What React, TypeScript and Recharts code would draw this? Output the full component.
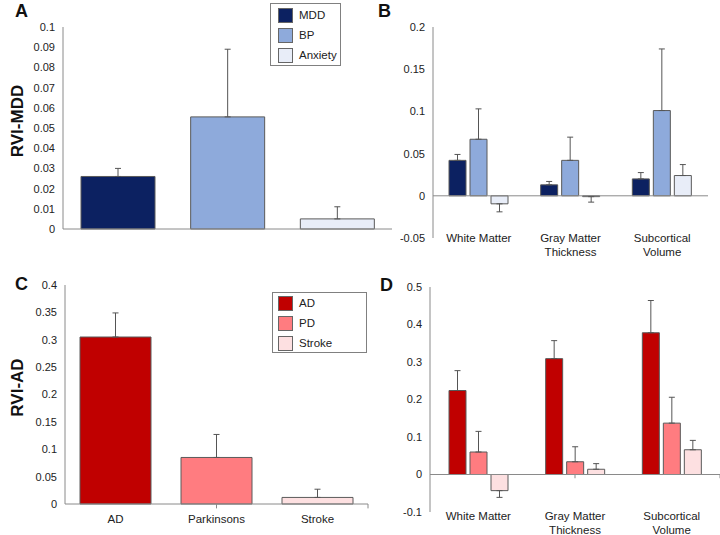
import React from 'react';
import { BarChart, Bar, XAxis, YAxis, ErrorBar, Cell, Legend, ReferenceLine } from 'recharts';

const FONT = '"Liberation Sans", Arial, Helvetica, sans-serif';
const AXIS = '#8a8a8a';
const OUTLINE = '#5a5a5a';
const ERR = '#555555';

// Panel A — RVI-MDD by disorder
const psychLabels = ['MDD', 'BP', 'Anxiety'];
const psychValues = [0.026, 0.0555, 0.005];
const psychErrors = [0.004, 0.0335, 0.006];
const psychColors = ['#0c2161', '#8eaadb', '#e8edf8'];
const psychTicks = [0, 0.01, 0.02, 0.03, 0.04, 0.05, 0.06, 0.07, 0.08, 0.09, 0.1];

// Panel B — RVI-MDD by region
const regionLabels = ['White Matter', 'Gray Matter\nThickness', 'Subcortical\nVolume'];
const mddRegion = [0.042, 0.013, 0.02];
const mddRegionErr = [0.007, 0.004, 0.0075];
const bpRegion = [0.067, 0.042, 0.101];
const bpRegionErr = [0.036, 0.0275, 0.073];
const anxRegion = [-0.0095, -0.001, 0.024];
const anxRegionErr = [0.0095, 0.0065, 0.013];
const regionTicksB = [-0.05, 0, 0.05, 0.1, 0.15, 0.2];

// Panel C — RVI-AD by disorder
const neuroLabels = ['AD', 'Parkinsons', 'Stroke'];
const neuroLegend = ['AD', 'PD', 'Stroke'];
const neuroValues = [0.305, 0.085, 0.012];
const neuroErrors = [0.044, 0.042, 0.015];
const neuroColors = ['#c00000', '#ff7c80', '#fde0e1'];
const neuroTicks = [0, 0.05, 0.1, 0.15, 0.2, 0.25, 0.3, 0.35, 0.4];

// Panel D — RVI-AD by region
const adRegion = [0.224, 0.309, 0.378];
const adRegionErr = [0.053, 0.048, 0.086];
const pdRegion = [0.06, 0.034, 0.137];
const pdRegionErr = [0.055, 0.04, 0.069];
const strokeRegion = [-0.043, 0.014, 0.066];
const strokeRegionErr = [0.018, 0.015, 0.025];
const regionTicksD = [-0.1, 0, 0.1, 0.2, 0.3, 0.4, 0.5];

const groupBoundaries = [1, 2];

const oneSided = (v: number, e: number) => (v >= 0 ? [0, e] : [e, 0]);

const psychData = psychLabels.map((name, i) => ({
  name,
  value: psychValues[i],
  err: oneSided(psychValues[i], psychErrors[i]),
}));

const regionDataB = regionLabels.map((name, i) => ({
  name,
  mdd: mddRegion[i],
  mddErr: oneSided(mddRegion[i], mddRegionErr[i]),
  bp: bpRegion[i],
  bpErr: oneSided(bpRegion[i], bpRegionErr[i]),
  anx: anxRegion[i],
  anxErr: oneSided(anxRegion[i], anxRegionErr[i]),
}));

const neuroData = neuroLabels.map((name, i) => ({
  name,
  value: neuroValues[i],
  err: oneSided(neuroValues[i], neuroErrors[i]),
}));

const regionDataD = regionLabels.map((name, i) => ({
  name,
  ad: adRegion[i],
  adErr: oneSided(adRegion[i], adRegionErr[i]),
  pd: pdRegion[i],
  pdErr: oneSided(pdRegion[i], pdRegionErr[i]),
  st: strokeRegion[i],
  stErr: oneSided(strokeRegion[i], strokeRegionErr[i]),
}));

const tickStyle = { fontSize: 11, fill: '#222', fontFamily: FONT };

const yTitle = (text: string) => (props: any) => {
  const vb = props.viewBox;
  const x = vb.x + 23;
  const y = vb.y + vb.height / 2 - 7;
  return (
    <text
      x={x}
      y={y}
      transform={`rotate(-90 ${x} ${y})`}
      textAnchor="middle"
      fontSize={17}
      fontWeight="bold"
      fontFamily={FONT}
      fill="#111"
    >
      {text}
    </text>
  );
};

const WrapTick = (props: any) => {
  const { x, y, payload, shift } = props;
  const lines = String(payload.value).split('\n');
  return (
    <text x={x} y={y + shift} textAnchor="middle" fontSize={11.5} fontFamily={FONT} fill="#222">
      {lines.map((l, i) => (
        <tspan key={i} x={x} dy={i === 0 ? '0.71em' : 14}>
          {l}
        </tspan>
      ))}
    </text>
  );
};

const LegendBox = ({ labels, colors, width, height, padTop, padLeft }: any) => (
  <div
    style={{
      width,
      height,
      boxSizing: 'border-box',
      border: '1px solid #808080',
      background: '#fff',
      paddingTop: padTop,
      paddingLeft: padLeft,
      fontFamily: FONT,
      fontSize: 11.5,
      color: '#222',
    }}
  >
    {labels.map((l: string, i: number) => (
      <div key={l} style={{ display: 'flex', alignItems: 'center', height: 20 }}>
        <span
          style={{
            display: 'inline-block',
            width: 15,
            height: 15,
            boxSizing: 'border-box',
            background: colors[i],
            border: '1px solid #666',
            marginRight: 6,
          }}
        />
        <span>{l}</span>
      </div>
    ))}
  </div>
);

export default function App() {
  return (
    <div style={{ position: 'absolute', left: 0, top: 0, width: 720, height: 535, background: '#fff' }}>
      {/* Panel A */}
      <div style={{ position: 'absolute', left: 0, top: 0 }}>
        <BarChart
          width={400}
          height={250}
          data={psychData}
          margin={{ top: 27, right: 8, bottom: 20, left: 0 }}
        >
          <XAxis dataKey="name" tick={false} tickLine={false} axisLine={{ stroke: AXIS }} height={1} />
          <YAxis
            width={63}
            domain={[0, 0.1]}
            ticks={psychTicks}
            interval={0}
            tickLine={false}
            axisLine={{ stroke: AXIS }}
            tick={tickStyle}
            label={yTitle('RVI-MDD')}
          />
          <Legend
            layout="vertical"
            align="center"
            verticalAlign="middle"
            wrapperStyle={{ left: 270, top: 3, width: 71, height: 63 }}
            content={() => (
              <LegendBox labels={psychLabels} colors={psychColors} width={71} height={63} padTop={1} padLeft={7} />
            )}
          />
          <Bar dataKey="value" barSize={74} stroke={OUTLINE} strokeWidth={1} isAnimationActive={false}>
            {psychData.map((d, i) => (
              <Cell key={d.name} fill={psychColors[i]} />
            ))}
            <ErrorBar dataKey="err" width={3} stroke={ERR} strokeWidth={1} direction="y" />
          </Bar>
        </BarChart>
      </div>

      {/* Panel B */}
      <div style={{ position: 'absolute', left: 400, top: 0 }}>
        <BarChart
          width={320}
          height={260}
          data={regionDataB}
          margin={{ top: 27, right: 12, bottom: 0, left: 0 }}
          barGap={4}
        >
          <XAxis
            dataKey="name"
            axisLine={false}
            tickLine={false}
            tickSize={0}
            tickMargin={0}
            height={22}
            interval={0}
            tick={(p: any) => <WrapTick {...p} shift={-4} />}
          />
          <YAxis
            width={33}
            domain={[-0.05, 0.2]}
            ticks={regionTicksB}
            interval={0}
            tickLine={false}
            axisLine={{ stroke: AXIS }}
            tick={tickStyle}
          />
          <ReferenceLine y={0} stroke={AXIS} />
          <Bar dataKey="mdd" fill={psychColors[0]} barSize={17} stroke={OUTLINE} strokeWidth={1} isAnimationActive={false}>
            <ErrorBar dataKey="mddErr" width={3} stroke={ERR} strokeWidth={1} direction="y" />
          </Bar>
          <Bar dataKey="bp" fill={psychColors[1]} barSize={17} stroke={OUTLINE} strokeWidth={1} isAnimationActive={false}>
            <ErrorBar dataKey="bpErr" width={3} stroke={ERR} strokeWidth={1} direction="y" />
          </Bar>
          <Bar dataKey="anx" fill={psychColors[2]} barSize={17} stroke={OUTLINE} strokeWidth={1} isAnimationActive={false}>
            <ErrorBar dataKey="anxErr" width={3} stroke={ERR} strokeWidth={1} direction="y" />
          </Bar>
        </BarChart>
      </div>

      {/* Panel C */}
      <div style={{ position: 'absolute', left: 0, top: 260 }}>
        <BarChart
          width={400}
          height={275}
          data={neuroData}
          margin={{ top: 25, right: 32, bottom: 0, left: 0 }}
        >
          <XAxis
            dataKey="name"
            height={31}
            tickLine={false}
            tickMargin={5}
            interval={0}
            axisLine={{ stroke: AXIS }}
            tick={{ fontSize: 11.5, fill: '#222', fontFamily: FONT }}
          />
          <XAxis xAxisId="n" type="number" domain={[0, 3]} allowDataOverflow hide />
          <YAxis
            width={65}
            domain={[0, 0.4]}
            ticks={neuroTicks}
            interval={0}
            tickLine={false}
            axisLine={{ stroke: AXIS }}
            tick={tickStyle}
            label={yTitle('RVI-AD')}
          />
          {groupBoundaries.map((b) => (
            <ReferenceLine
              key={b}
              xAxisId="n"
              segment={[
                { x: b, y: 0 },
                { x: b, y: -0.008 },
              ]}
              stroke={AXIS}
              ifOverflow="visible"
            />
          ))}
          <Legend
            layout="vertical"
            align="center"
            verticalAlign="middle"
            wrapperStyle={{ left: 272, top: 32, width: 95, height: 61 }}
            content={() => (
              <LegendBox labels={neuroLegend} colors={neuroColors} width={95} height={61} padTop={0} padLeft={5} />
            )}
          />
          <Bar dataKey="value" barSize={71} stroke={OUTLINE} strokeWidth={1} isAnimationActive={false}>
            {neuroData.map((d, i) => (
              <Cell key={d.name} fill={neuroColors[i]} />
            ))}
            <ErrorBar dataKey="err" width={3} stroke={ERR} strokeWidth={1} direction="y" />
          </Bar>
        </BarChart>
      </div>

      {/* Panel D */}
      <div style={{ position: 'absolute', left: 400, top: 260 }}>
        <BarChart
          width={320}
          height={275}
          data={regionDataD}
          margin={{ top: 27, right: 0, bottom: 0, left: 0 }}
          barGap={4}
        >
          <XAxis
            dataKey="name"
            axisLine={false}
            tickLine={false}
            tickSize={0}
            tickMargin={0}
            height={23}
            interval={0}
            tick={(p: any) => <WrapTick {...p} shift={0} />}
          />
          <XAxis xAxisId="n" type="number" domain={[0, 3]} allowDataOverflow hide />
          <YAxis
            width={30}
            domain={[-0.1, 0.5]}
            ticks={regionTicksD}
            interval={0}
            tickLine={false}
            axisLine={{ stroke: AXIS }}
            tick={tickStyle}
          />
          <ReferenceLine y={0} stroke={AXIS} />
          {groupBoundaries.map((b) => (
            <ReferenceLine
              key={b}
              xAxisId="n"
              segment={[
                { x: b, y: 0 },
                { x: b, y: -0.01 },
              ]}
              stroke={AXIS}
              ifOverflow="visible"
            />
          ))}
          <Bar dataKey="ad" fill={neuroColors[0]} barSize={17} stroke={OUTLINE} strokeWidth={1} isAnimationActive={false}>
            <ErrorBar dataKey="adErr" width={3} stroke={ERR} strokeWidth={1} direction="y" />
          </Bar>
          <Bar dataKey="pd" fill={neuroColors[1]} barSize={17} stroke={OUTLINE} strokeWidth={1} isAnimationActive={false}>
            <ErrorBar dataKey="pdErr" width={3} stroke={ERR} strokeWidth={1} direction="y" />
          </Bar>
          <Bar dataKey="st" fill={neuroColors[2]} barSize={17} stroke={OUTLINE} strokeWidth={1} isAnimationActive={false}>
            <ErrorBar dataKey="stErr" width={3} stroke={ERR} strokeWidth={1} direction="y" />
          </Bar>
        </BarChart>
      </div>

      {/* Panel letters */}
      <svg
        width={720}
        height={535}
        style={{ position: 'absolute', left: 0, top: 0, pointerEvents: 'none' }}
      >
        <g fontFamily={FONT} fontWeight="bold" fontSize={18} fill="#111">
          <text x={15} y={17}>A</text>
          <text x={378} y={17}>B</text>
          <text x={15} y={290}>C</text>
          <text x={380} y={291}>D</text>
        </g>
      </svg>
    </div>
  );
}
